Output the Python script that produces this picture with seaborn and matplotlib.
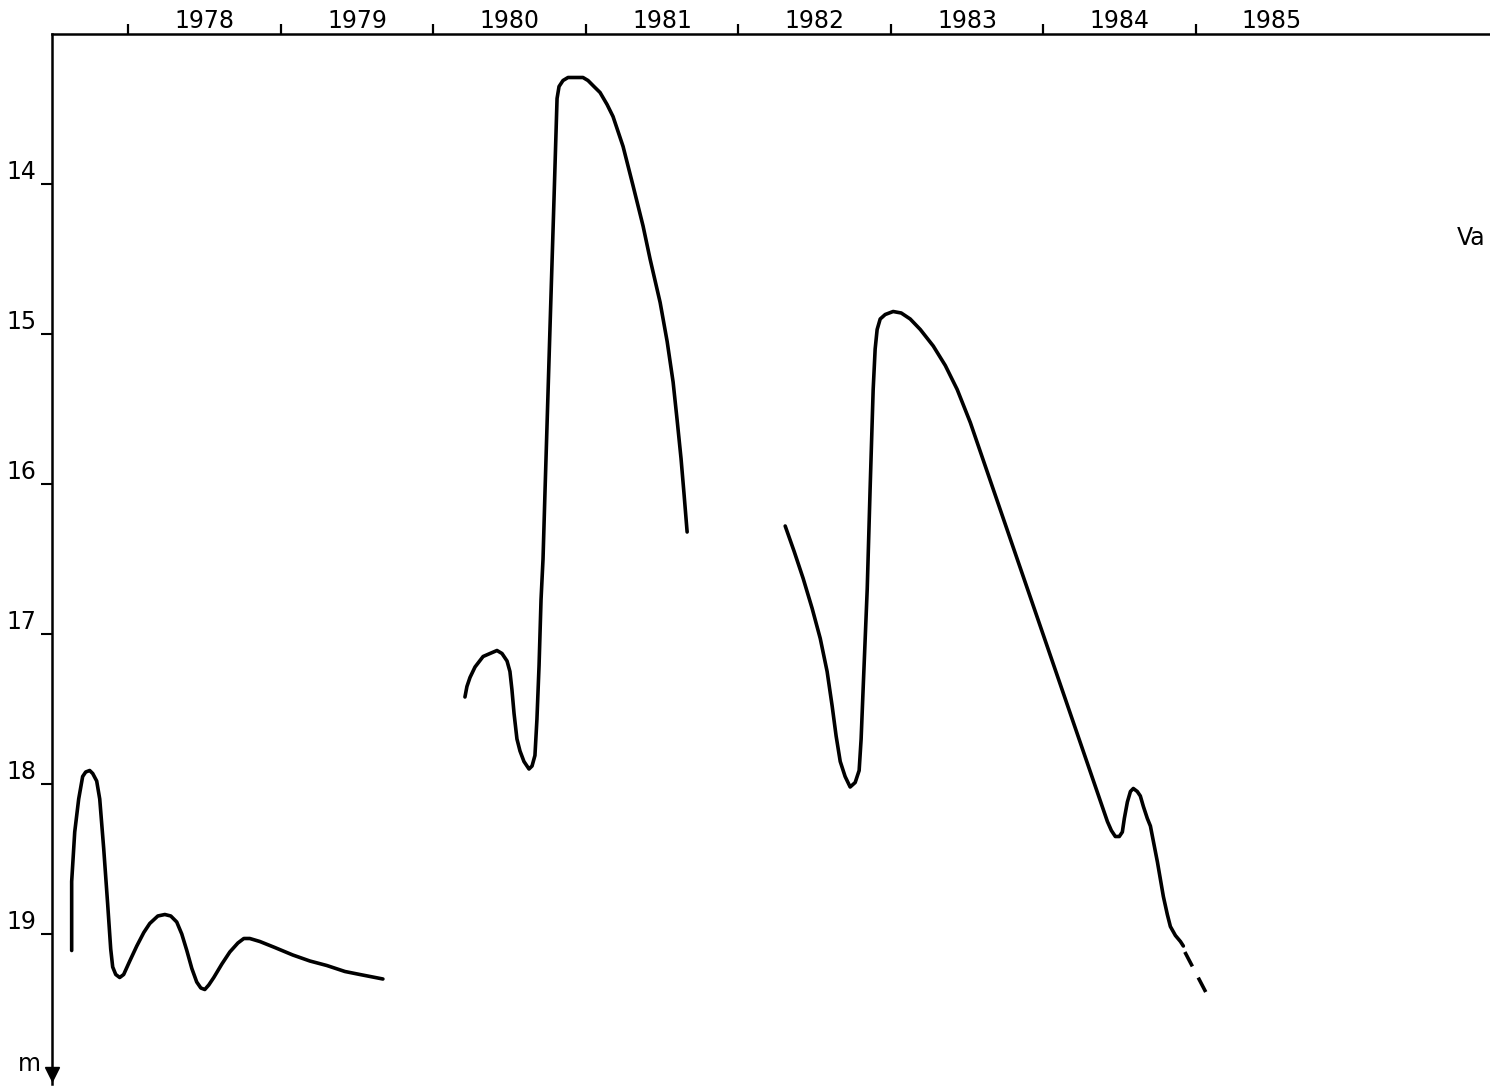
import numpy as np
import pandas as pd
import matplotlib
matplotlib.use("Agg")
import matplotlib.pyplot as plt
import seaborn as sns

# Water-table depth (m below surface) against time, decimal years
year_a = [1977.629, 1977.629, 1977.649, 1977.675, 1977.701, 1977.721, 1977.747, 1977.767,
          1977.793, 1977.813, 1977.839, 1977.865, 1977.885, 1977.898, 1977.918, 1977.944,
          1977.970, 1978.010, 1978.056, 1978.102, 1978.141, 1978.194, 1978.240, 1978.279,
          1978.318, 1978.351, 1978.384, 1978.417, 1978.449, 1978.476, 1978.502, 1978.528,
          1978.561, 1978.614, 1978.666, 1978.719, 1978.758, 1978.797, 1978.863, 1978.961,
          1979.079, 1979.191, 1979.302, 1979.421, 1979.519, 1979.670]
depth_a = [19.11, 18.65, 18.32, 18.10, 17.95, 17.92, 17.91, 17.93,
           17.98, 18.10, 18.43, 18.80, 19.10, 19.22, 19.27, 19.29,
           19.27, 19.18, 19.08, 18.99, 18.93, 18.88, 18.87, 18.88,
           18.92, 19.00, 19.11, 19.23, 19.32, 19.36, 19.37, 19.34,
           19.29, 19.20, 19.12, 19.06, 19.03, 19.03, 19.05, 19.09,
           19.14, 19.18, 19.21, 19.25, 19.27, 19.30]

year_b = [1980.208, 1980.221, 1980.241, 1980.274, 1980.327, 1980.372, 1980.418, 1980.451,
          1980.484, 1980.503, 1980.516, 1980.530, 1980.549, 1980.569, 1980.595, 1980.628,
          1980.648, 1980.667, 1980.680, 1980.694, 1980.707, 1980.720, 1980.733, 1980.766,
          1980.792, 1980.812, 1980.825, 1980.851, 1980.884, 1980.917, 1980.949, 1980.982,
          1981.015, 1981.054, 1981.094, 1981.140, 1981.179, 1981.245, 1981.310, 1981.376,
          1981.422, 1981.488, 1981.534, 1981.573, 1981.599, 1981.625, 1981.645, 1981.665]
depth_b = [17.42, 17.35, 17.29, 17.22, 17.15, 17.13, 17.11, 17.13,
           17.18, 17.25, 17.37, 17.53, 17.70, 17.78, 17.85, 17.90,
           17.88, 17.81, 17.57, 17.21, 16.77, 16.50, 16.05, 14.95,
           14.10, 13.43, 13.35, 13.31, 13.29, 13.29, 13.29, 13.29,
           13.31, 13.35, 13.39, 13.47, 13.55, 13.75, 14.01, 14.28,
           14.50, 14.79, 15.05, 15.32, 15.57, 15.83, 16.07, 16.32]

year_c = [1982.308, 1982.367, 1982.426, 1982.485, 1982.538, 1982.583, 1982.616, 1982.642,
          1982.669, 1982.701, 1982.734, 1982.767, 1982.793, 1982.806, 1982.819, 1982.846,
          1982.865, 1982.885, 1982.898, 1982.911, 1982.931, 1982.964, 1983.016, 1983.069,
          1983.128, 1983.194, 1983.279, 1983.358, 1983.436, 1983.522, 1984.421, 1984.447,
          1984.473, 1984.499, 1984.519, 1984.532, 1984.552, 1984.572, 1984.591, 1984.617,
          1984.637, 1984.657, 1984.683, 1984.703, 1984.749, 1984.788, 1984.814, 1984.834,
          1984.867, 1984.900, 1984.919]
depth_c = [16.28, 16.45, 16.63, 16.83, 17.03, 17.25, 17.48, 17.68,
           17.85, 17.95, 18.02, 17.99, 17.91, 17.70, 17.37, 16.70,
           16.03, 15.37, 15.10, 14.97, 14.90, 14.87, 14.85, 14.86,
           14.90, 14.97, 15.08, 15.21, 15.37, 15.59, 18.25, 18.31,
           18.35, 18.35, 18.32, 18.23, 18.12, 18.05, 18.03, 18.05,
           18.08, 18.15, 18.23, 18.28, 18.52, 18.75, 18.87, 18.95,
           19.01, 19.05, 19.08]

# Extrapolated continuation (dashed)
year_d = [1984.929, 1985.083]
depth_d = [19.12, 19.42]

year_ticks = [1978, 1979, 1980, 1981, 1982, 1983, 1984, 1985]
year_labels = ["1978", "1979", "1980", "1981", "1982", "1983", "1984", "1985"]
depth_ticks = [14, 15, 16, 17, 18, 19]
depth_labels = ["14", "15", "16", "17", "18", "19"]

measured = pd.concat([
    pd.DataFrame({"year": year_a, "depth": depth_a, "segment": "a"}),
    pd.DataFrame({"year": year_b, "depth": depth_b, "segment": "b"}),
    pd.DataFrame({"year": year_c, "depth": depth_c, "segment": "c"}),
], ignore_index=True)
projected = pd.DataFrame({"year": year_d, "depth": depth_d, "segment": "d"})

sns.set_style("white")
plt.rcParams["font.family"] = ["DejaVu Sans"]
plt.rcParams["text.color"] = "black"
plt.rcParams["xtick.color"] = "black"
plt.rcParams["ytick.color"] = "black"

W, H = 1490, 1089
fig = plt.figure(figsize=(W / 100, H / 100), dpi=100)
ax = fig.add_axes([52 / W, 5 / H, (W - 52) / W, 1050 / H])

sns.lineplot(data=measured, x="year", y="depth", units="segment", estimator=None,
             sort=False, color="black", linewidth=2.6, ax=ax, legend=False)
sns.lineplot(data=projected, x="year", y="depth", estimator=None, sort=False,
             color="black", linewidth=2.6, ax=ax, legend=False,
             linestyle=(0, (4.5, 3.5)))
for line in ax.get_lines():
    line.set_solid_joinstyle("round")
    line.set_solid_capstyle("round")

ax.set_xlim(1977.5, 1986.93)
ax.set_ylim(20.0, 13.0)
ax.set_xlabel("")
ax.set_ylabel("")

# Axes: only the top and left spines, with year ticks along the top
for side in ("bottom", "right"):
    ax.spines[side].set_visible(False)
for side in ("top", "left"):
    ax.spines[side].set_linewidth(1.8)
    ax.spines[side].set_color("black")

ax.xaxis.tick_top()
ax.set_xticks(year_ticks, labels=[""] * len(year_ticks))
ax.set_xticks([y + 0.5 for y in year_ticks], labels=year_labels, minor=True)
ax.tick_params(axis="x", which="major", direction="out", length=7, width=1.6,
               top=True, bottom=False, labeltop=False, labelbottom=False)
ax.tick_params(axis="x", which="minor", length=0, pad=1, top=True, bottom=False,
               labeltop=True, labelbottom=False, labelsize=17)

ax.set_yticks(depth_ticks, labels=depth_labels)
ax.tick_params(axis="y", which="major", direction="out", length=8, width=1.5,
               pad=3, labelsize=17, left=True, right=False)
for lab in ax.get_yticklabels():
    lab.set_verticalalignment("bottom")

# Downward arrow head closing the depth axis
ax.plot([1977.5], [19.93], marker="v", markersize=10, color="black",
        clip_on=False)

fig.text(29 / W, 1 - 1071 / H, "m", ha="center", va="baseline", fontsize=17)
fig.text(1457 / W, 1 - 245 / H, "Va", ha="left", va="baseline", fontsize=17)

fig.savefig("out.png", dpi=100, facecolor="white")
